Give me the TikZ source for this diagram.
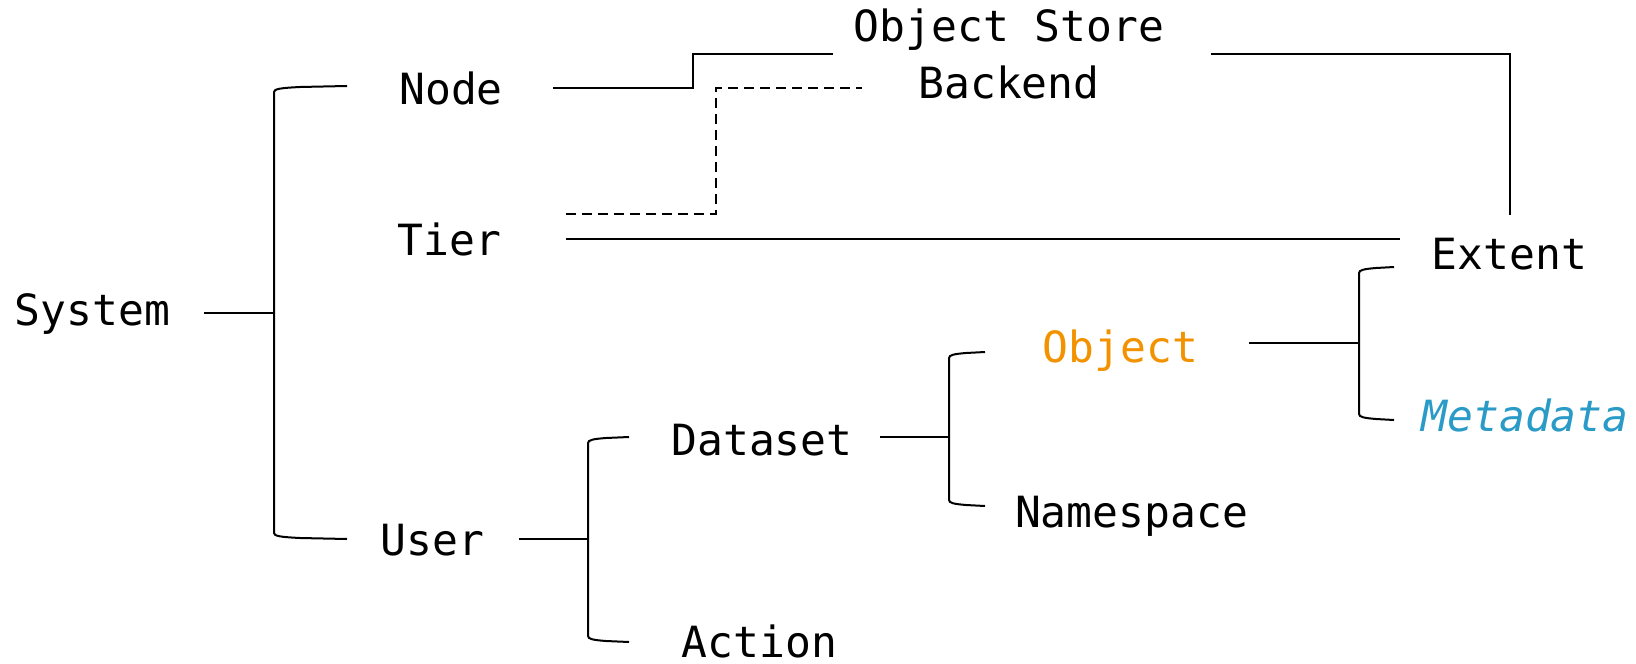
\documentclass[tikz,border=0pt]{standalone}
\usepackage{fontspec}
\setmonofont{DejaVu Sans Mono}
\definecolor{objorange}{HTML}{F39200}
\definecolor{metablue}{HTML}{2A9BC7}
\begin{document}
\begin{tikzpicture}[x=0.5pt,y=-0.5pt,
  lbl/.style={inner sep=0pt, anchor=base, font=\ttfamily\fontsize{21.5pt}{26pt}\selectfont},
  link/.style={line width=1pt},
  dlink/.style={link, dash pattern=on 5pt off 3pt}]
\useasboundingbox (0,0) rectangle (1636,663);

% ---- labels ----
\node[lbl] (system)    at (92.5,325)  {System};
\node[lbl] (node)      at (451,105)   {Node};
\node[lbl] (tier)      at (449.5,256) {Tier};
\node[lbl] (user)      at (432.5,555) {User};
\node[lbl] (store)     at (1009,42)   {Object Store};
\node[lbl] (backend)   at (1009,99)   {Backend};
\node[lbl] (extent)    at (1509.5,269) {Extent};
\node[lbl, text=objorange] (object) at (1120.5,362) {Object};
\node[lbl, text=metablue] (metadata) at (1525,431) {\itshape Metadata};
\node[lbl] (dataset)   at (762,455)   {Dataset};
\node[lbl] (namespace) at (1131.5,527) {Namespace};
\node[lbl] (action)    at (759.5,657) {Action};

% ---- System -> Node / User ----
\coordinate (sysOut)  at (204,313);
\coordinate (sysFork) at (274,313);
\coordinate (nodeIn)  at (347,86);
\coordinate (userIn)  at (347,539);
\draw[link] (sysOut) -- (sysFork);
\draw[link] (sysFork) -- (274,92) .. controls (274,89) and (280,88) .. (300,87) -- (nodeIn);
\draw[link] (sysFork) -- (274,533) .. controls (274,536) and (280,537) .. (300,538) -- (userIn);

% ---- Node -> Object Store ----
\coordinate (nodeOut) at (553,88);
\coordinate (storeIn) at (833,54);
\draw[link] (nodeOut) -- (693,88) |- (storeIn);

% ---- Tier -> Backend (dashed) ----
\coordinate (tierOutB)  at (566,214);
\coordinate (backendIn) at (862,88);
\draw[dlink] (tierOutB) -- (716,214) |- (backendIn);

% ---- Tier -> Extent ----
\coordinate (tierOut)  at (566,239);
\coordinate (extentIn) at (1400,239);
\draw[link] (tierOut) -- (extentIn);

% ---- Object Store -> Extent ----
\coordinate (storeOut)  at (1211,54);
\coordinate (extentTop) at (1510,215);
\draw[link] (storeOut) -| (extentTop);

% ---- Object -> Extent / Metadata ----
\coordinate (objOut)    at (1249,343);
\coordinate (objFork)   at (1359,343);
\coordinate (extentInB) at (1394,267);
\coordinate (metaIn)    at (1394,420);
\draw[link] (objOut) -- (objFork);
\draw[link] (objFork) -- (1359,273) .. controls (1359,270) and (1364,269) .. (1376,268) -- (extentInB);
\draw[link] (objFork) -- (1359,414) .. controls (1359,417) and (1364,418) .. (1376,419) -- (metaIn);

% ---- User -> Dataset / Action ----
\coordinate (userOut)   at (519,539);
\coordinate (userFork)  at (588,539);
\coordinate (datasetIn) at (629,437);
\coordinate (actionIn)  at (629,642);
\draw[link] (userOut) -- (userFork);
\draw[link] (userFork) -- (588,443) .. controls (588,440) and (593,439) .. (606,438) -- (datasetIn);
\draw[link] (userFork) -- (588,636) .. controls (588,639) and (593,640) .. (606,641) -- (actionIn);

% ---- Dataset -> Object / Namespace ----
\coordinate (dsOut)    at (880,437);
\coordinate (dsFork)   at (949,437);
\coordinate (objectIn) at (985,352);
\coordinate (nsIn)     at (985,506);
\draw[link] (dsOut) -- (dsFork);
\draw[link] (dsFork) -- (949,358) .. controls (949,355) and (954,354) .. (966,353) -- (objectIn);
\draw[link] (dsFork) -- (949,500) .. controls (949,503) and (954,504) .. (966,505) -- (nsIn);
\end{tikzpicture}
\end{document}
